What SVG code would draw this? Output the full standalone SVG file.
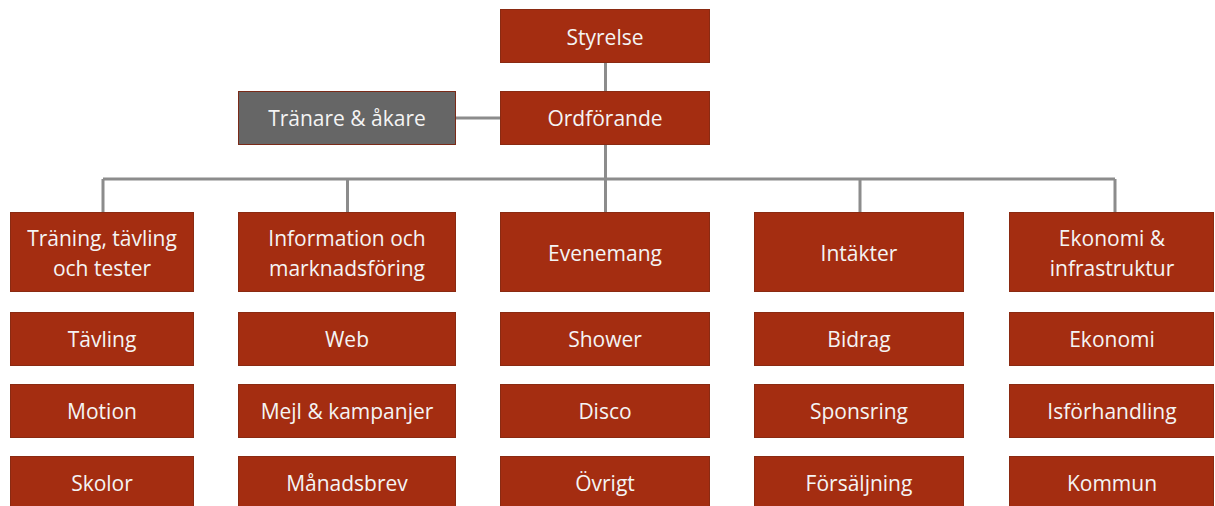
<svg xmlns="http://www.w3.org/2000/svg" width="1215" height="506" viewBox="0 0 1215 506">
<style>
.b{fill:#A42D11;stroke:#8A2A12;stroke-width:1}
.g{fill:#666666;stroke:#7A2A18;stroke-width:1}
text{font-family:"Open Sans","Liberation Sans",sans-serif;font-size:21px;fill:#F4F4F4;text-anchor:middle}
.c{fill:none;stroke:#8C8C8C;stroke-width:3}
</style>
<rect width="1215" height="506" fill="#FFFFFF"/>
<g id="connectors">
<path class="c" d="M605.5 63V91M456 118H500M605.5 144V179M103 179H1115M103 179V212M347.5 179V212M605.5 179V212M860 179V212M1115 179V212"/>
</g>
<g id="styrelse"><rect class="b" x="500.5" y="9.5" width="209" height="53"/><text x="605" y="45">Styrelse</text></g>
<g id="ordforande"><rect class="b" x="500.5" y="91.5" width="209" height="53"/><text x="605" y="126">Ordförande</text></g>
<g id="tranare"><rect class="g" x="238.5" y="91.5" width="217" height="53"/><text x="347" y="126">Tränare &amp; åkare</text></g>

<g id="col1"><rect class="b" x="10.5" y="212.5" width="183" height="79"/><text x="102" y="246">Träning, tävling</text><text x="102" y="276">och tester</text></g>
<g id="col2"><rect class="b" x="238.5" y="212.5" width="217" height="79"/><text x="347" y="246">Information och</text><text x="347" y="276">marknadsföring</text></g>
<g id="col3"><rect class="b" x="500.5" y="212.5" width="209" height="79"/><text x="605" y="261">Evenemang</text></g>
<g id="col4"><rect class="b" x="754.5" y="212.5" width="209" height="79"/><text x="859" y="261">Intäkter</text></g>
<g id="col5"><rect class="b" x="1009.5" y="212.5" width="204" height="79"/><text x="1112" y="246">Ekonomi &amp;</text><text x="1112" y="276">infrastruktur</text></g>

<g id="tavling"><rect class="b" x="10.5" y="312.5" width="183" height="53"/><text x="102" y="347">Tävling</text></g>
<g id="motion"><rect class="b" x="10.5" y="384.5" width="183" height="53"/><text x="102" y="419">Motion</text></g>
<g id="skolor"><rect class="b" x="10.5" y="456.5" width="183" height="53"/><text x="102" y="491">Skolor</text></g>

<g id="web"><rect class="b" x="238.5" y="312.5" width="217" height="53"/><text x="347" y="347">Web</text></g>
<g id="mejl"><rect class="b" x="238.5" y="384.5" width="217" height="53"/><text x="347" y="419">Mejl &amp; kampanjer</text></g>
<g id="manadsbrev"><rect class="b" x="238.5" y="456.5" width="217" height="53"/><text x="347" y="491">Månadsbrev</text></g>

<g id="shower"><rect class="b" x="500.5" y="312.5" width="209" height="53"/><text x="605" y="347">Shower</text></g>
<g id="disco"><rect class="b" x="500.5" y="384.5" width="209" height="53"/><text x="605" y="419">Disco</text></g>
<g id="ovrigt"><rect class="b" x="500.5" y="456.5" width="209" height="53"/><text x="605" y="491">Övrigt</text></g>

<g id="bidrag"><rect class="b" x="754.5" y="312.5" width="209" height="53"/><text x="859" y="347">Bidrag</text></g>
<g id="sponsring"><rect class="b" x="754.5" y="384.5" width="209" height="53"/><text x="859" y="419">Sponsring</text></g>
<g id="forsaljning"><rect class="b" x="754.5" y="456.5" width="209" height="53"/><text x="859" y="491">Försäljning</text></g>

<g id="ekonomi"><rect class="b" x="1009.5" y="312.5" width="204" height="53"/><text x="1112" y="347">Ekonomi</text></g>
<g id="isforhandling"><rect class="b" x="1009.5" y="384.5" width="204" height="53"/><text x="1112" y="419">Isförhandling</text></g>
<g id="kommun"><rect class="b" x="1009.5" y="456.5" width="204" height="53"/><text x="1112" y="491">Kommun</text></g>
</svg>
